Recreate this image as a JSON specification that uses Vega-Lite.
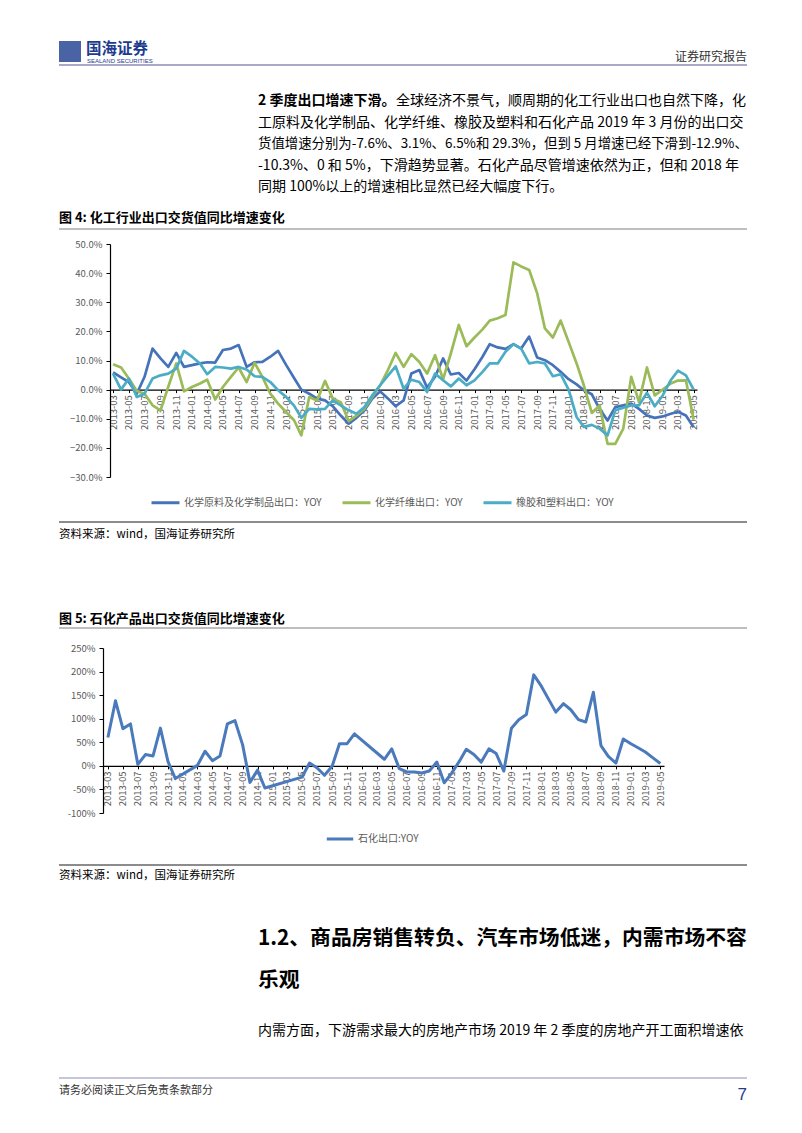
{
  "$schema": "https://vega.github.io/schema/vega-lite/v6.json",
  "background": "white",
  "padding": {"left": 57, "top": 30, "right": 0, "bottom": 0},
  "spacing": 0,
  "resolve": {"scale": {"color": "independent"}, "legend": {"color": "independent"}},
  "config": {"view": {"stroke": null}, "font": "Noto Sans CJK SC", "concat": {"spacing": 0}},
  "vconcat": [
    {
      "width": 688,
      "height": 209,
      "layer": [
        {"data": {"values": [{"t": "logo"}]}, "mark": {"type": "rect", "color": "#1d3c8f", "opacity": 0.8},
         "encoding": {"x": {"datum": 0, "type": "quantitative", "scale": {"domain": [51, 739], "nice": false, "zero": false}, "axis": null}, "x2": {"datum": 22}, "y": {"datum": 11, "type": "quantitative", "scale": {"domain": [0, 209], "reverse": true, "nice": false, "zero": false}, "axis": null}, "y2": {"datum": 32}}},
        {"data": {"values": [{"t": "国海证券"}]}, "mark": {"type": "text", "align": "left", "baseline": "middle", "fontSize": 15.5, "fontWeight": "bold", "color": "#1d3c8f"},
         "encoding": {"text": {"field": "t"}, "x": {"datum": 27, "type": "quantitative", "axis": null}, "y": {"datum": 18.5, "type": "quantitative", "axis": null}}},
        {"data": {"values": [{"t": "SEALAND SECURITIES"}]}, "mark": {"type": "text", "align": "left", "baseline": "middle", "fontSize": 6, "font": "Liberation Sans", "color": "#1d3c8f"},
         "encoding": {"text": {"field": "t"}, "x": {"datum": 28, "type": "quantitative", "axis": null}, "y": {"datum": 31, "type": "quantitative", "axis": null}}},
        {"data": {"values": [{"t": "证券研究报告"}]}, "mark": {"type": "text", "align": "right", "baseline": "middle", "fontSize": 12, "color": "#333333"},
         "encoding": {"text": {"field": "t"}, "x": {"datum": 688, "type": "quantitative", "axis": null}, "y": {"datum": 27, "type": "quantitative", "axis": null}}},
        {"data": {"values": [{"t": "rule"}]}, "mark": {"type": "rule", "color": "#8d8db5", "strokeWidth": 1.5},
         "encoding": {"x": {"datum": 0, "type": "quantitative", "axis": null}, "x2": {"datum": 688}, "y": {"datum": 35, "type": "quantitative", "axis": null}}},
        {"data": {"values": [{"t": "2 季度出口增速下滑。"}]}, "mark": {"type": "text", "align": "left", "baseline": "middle", "fontSize": 14, "fontWeight": "bold", "color": "#000000"},
         "encoding": {"text": {"field": "t"}, "x": {"datum": 199, "type": "quantitative", "axis": null}, "y": {"datum": 71, "type": "quantitative", "axis": null}}},
        {"data": {"values": [{"t": "全球经济不景气，顺周期的化工行业出口也自然下降，化"}]}, "mark": {"type": "text", "align": "left", "baseline": "middle", "fontSize": 14, "color": "#000000"},
         "encoding": {"text": {"field": "t"}, "x": {"datum": 337, "type": "quantitative", "axis": null}, "y": {"datum": 71, "type": "quantitative", "axis": null}}},
        {"data": {"values": [{"t": "工原料及化学制品、化学纤维、橡胶及塑料和石化产品 2019 年 3 月份的出口交"}]}, "mark": {"type": "text", "align": "left", "baseline": "middle", "fontSize": 14, "color": "#000000"},
         "encoding": {"text": {"field": "t"}, "x": {"datum": 199, "type": "quantitative", "axis": null}, "y": {"datum": 92.5, "type": "quantitative", "axis": null}}},
        {"data": {"values": [{"t": "货值增速分别为-7.6%、3.1%、6.5%和 29.3%，但到 5 月增速已经下滑到-12.9%、"}]}, "mark": {"type": "text", "align": "left", "baseline": "middle", "fontSize": 13.4, "color": "#000000"},
         "encoding": {"text": {"field": "t"}, "x": {"datum": 199, "type": "quantitative", "axis": null}, "y": {"datum": 114, "type": "quantitative", "axis": null}}},
        {"data": {"values": [{"t": "-10.3%、0 和 5%，下滑趋势显著。石化产品尽管增速依然为正，但和 2018 年"}]}, "mark": {"type": "text", "align": "left", "baseline": "middle", "fontSize": 14, "color": "#000000"},
         "encoding": {"text": {"field": "t"}, "x": {"datum": 199, "type": "quantitative", "axis": null}, "y": {"datum": 135.5, "type": "quantitative", "axis": null}}},
        {"data": {"values": [{"t": "同期 100%以上的增速相比显然已经大幅度下行。"}]}, "mark": {"type": "text", "align": "left", "baseline": "middle", "fontSize": 14, "color": "#000000"},
         "encoding": {"text": {"field": "t"}, "x": {"datum": 199, "type": "quantitative", "axis": null}, "y": {"datum": 157, "type": "quantitative", "axis": null}}},
        {"data": {"values": [{"t": "图 4: 化工行业出口交货值同比增速变化"}]}, "mark": {"type": "text", "align": "left", "baseline": "middle", "fontSize": 13, "fontWeight": "bold", "color": "#000000"},
         "encoding": {"text": {"field": "t"}, "x": {"datum": 0, "type": "quantitative", "axis": null}, "y": {"datum": 188, "type": "quantitative", "axis": null}}},
        {"data": {"values": [{"t": "rule"}]}, "mark": {"type": "rule", "color": "#7f7f7f", "strokeWidth": 1},
         "encoding": {"x": {"datum": 0, "type": "quantitative", "axis": null}, "x2": {"datum": 688}, "y": {"datum": 199, "type": "quantitative", "axis": null}}}
      ]
    },
    {
      "width": 587,
      "height": 233,
      "data": {"values": [
        {"m": "2013-03", "a": 5.9, "b": 8.7, "c": 5.5},
        {"m": "2013-04", "a": 4.2, "b": 7.6, "c": 0.0},
        {"m": "2013-05", "a": 2.6, "b": 3.8, "c": 3.8},
        {"m": "2013-06", "a": -1.4, "b": -0.5, "c": -2.5},
        {"m": "2013-07", "a": 4.4, "b": -1.4, "c": -1.4},
        {"m": "2013-08", "a": 14.1, "b": -5.4, "c": 3.8},
        {"m": "2013-09", "a": 10.7, "b": -7.1, "c": 4.9},
        {"m": "2013-10", "a": 7.8, "b": 1.0, "c": 5.5},
        {"m": "2013-11", "a": 12.6, "b": 9.0, "c": 7.2},
        {"m": "2013-12", "a": 7.8, "b": -0.6, "c": 13.3},
        {"m": "2014-01", "a": 8.4, "b": 0.9, "c": 11.3},
        {"m": "2014-02", "a": 9.0, "b": 2.1, "c": 9.0},
        {"m": "2014-03", "a": 9.4, "b": 3.4, "c": 5.3},
        {"m": "2014-04", "a": 9.3, "b": -3.4, "c": 7.8},
        {"m": "2014-05", "a": 13.6, "b": 0.9, "c": 7.6},
        {"m": "2014-06", "a": 14.1, "b": 4.4, "c": 7.2},
        {"m": "2014-07", "a": 15.3, "b": 7.6, "c": 7.8},
        {"m": "2014-08", "a": 7.8, "b": 2.6, "c": 6.9},
        {"m": "2014-09", "a": 9.4, "b": 9.2, "c": 4.6},
        {"m": "2014-10", "a": 9.5, "b": 4.4, "c": 4.4},
        {"m": "2014-11", "a": 11.3, "b": -1.4, "c": 2.6},
        {"m": "2014-12", "a": 13.3, "b": -4.8, "c": -0.2},
        {"m": "2015-01", "a": 8.5, "b": -7.7, "c": -2.5},
        {"m": "2015-02", "a": 4.0, "b": -10.5, "c": -5.5},
        {"m": "2015-03", "a": 0.0, "b": -15.7, "c": -9.7},
        {"m": "2015-04", "a": -1.4, "b": -2.5, "c": -6.6},
        {"m": "2015-05", "a": -3.1, "b": -3.7, "c": -6.8},
        {"m": "2015-06", "a": -3.7, "b": 3.0, "c": -6.6},
        {"m": "2015-07", "a": -5.7, "b": -3.1, "c": -3.7},
        {"m": "2015-08", "a": -8.9, "b": -4.3, "c": -5.4},
        {"m": "2015-09", "a": -11.7, "b": -10.8, "c": -7.1},
        {"m": "2015-10", "a": -9.7, "b": -8.9, "c": -8.3},
        {"m": "2015-11", "a": -7.1, "b": -6.6, "c": -6.0},
        {"m": "2015-12", "a": -3.1, "b": -2.5, "c": -2.0},
        {"m": "2016-01", "a": -0.6, "b": 1.5, "c": 1.5},
        {"m": "2016-02", "a": -3.1, "b": 6.9, "c": 4.9},
        {"m": "2016-03", "a": -5.7, "b": 12.6, "c": 8.0},
        {"m": "2016-04", "a": -3.7, "b": 7.8, "c": 0.3},
        {"m": "2016-05", "a": 5.5, "b": 12.2, "c": 3.4},
        {"m": "2016-06", "a": 6.7, "b": 9.5, "c": 2.6},
        {"m": "2016-07", "a": 0.7, "b": 5.5, "c": -0.8},
        {"m": "2016-08", "a": 4.4, "b": 11.8, "c": 5.5},
        {"m": "2016-09", "a": 10.7, "b": 3.5, "c": 3.2},
        {"m": "2016-10", "a": 5.2, "b": 12.4, "c": 1.1},
        {"m": "2016-11", "a": 5.7, "b": 22.2, "c": 3.8},
        {"m": "2016-12", "a": 3.1, "b": 14.9, "c": 1.5},
        {"m": "2017-01", "a": 7.0, "b": 17.9, "c": 3.2},
        {"m": "2017-02", "a": 11.3, "b": 20.7, "c": 6.1},
        {"m": "2017-03", "a": 15.6, "b": 23.7, "c": 9.0},
        {"m": "2017-04", "a": 14.5, "b": 24.5, "c": 9.0},
        {"m": "2017-05", "a": 14.0, "b": 25.6, "c": 13.0},
        {"m": "2017-06", "a": 15.6, "b": 43.7, "c": 15.6},
        {"m": "2017-07", "a": 14.1, "b": 42.3, "c": 14.1},
        {"m": "2017-08", "a": 18.2, "b": 41.1, "c": 9.0},
        {"m": "2017-09", "a": 11.0, "b": 33.1, "c": 9.5},
        {"m": "2017-10", "a": 10.1, "b": 21.0, "c": 9.0},
        {"m": "2017-11", "a": 8.4, "b": 17.9, "c": 4.6},
        {"m": "2017-12", "a": 6.1, "b": 23.7, "c": 5.3},
        {"m": "2018-01", "a": 3.6, "b": 16.4, "c": 0.0},
        {"m": "2018-02", "a": 1.8, "b": 9.0, "c": -9.4},
        {"m": "2018-03", "a": -0.2, "b": 1.5, "c": -12.8},
        {"m": "2018-04", "a": -1.6, "b": -8.0, "c": -12.1},
        {"m": "2018-05", "a": -6.6, "b": -5.4, "c": -13.4},
        {"m": "2018-06", "a": -10.6, "b": -18.6, "c": -15.7},
        {"m": "2018-07", "a": -6.0, "b": -18.6, "c": -7.1},
        {"m": "2018-08", "a": -5.4, "b": -13.4, "c": -6.2},
        {"m": "2018-09", "a": -4.8, "b": 4.4, "c": -5.4},
        {"m": "2018-10", "a": -6.6, "b": -4.3, "c": -5.4},
        {"m": "2018-11", "a": -8.9, "b": 7.6, "c": -1.1},
        {"m": "2018-12", "a": -9.7, "b": -2.0, "c": -5.7},
        {"m": "2019-01", "a": -9.2, "b": 0.0, "c": -2.0},
        {"m": "2019-02", "a": -8.3, "b": 2.1, "c": 3.2},
        {"m": "2019-03", "a": -7.6, "b": 3.1, "c": 6.5},
        {"m": "2019-04", "a": -8.9, "b": 3.2, "c": 4.9},
        {"m": "2019-05", "a": -12.9, "b": -10.3, "c": 0.0}
      ]},
      "transform": [{"fold": ["a", "b", "c"], "as": ["s", "v"]}],
      "mark": {"type": "line", "strokeWidth": 2.7, "strokeJoin": "round"},
      "encoding": {
        "x": {"field": "m", "type": "temporal",
              "scale": {"type": "utc", "domain": [{"year": 2013, "month": 2, "date": 17, "utc": true}, {"year": 2019, "month": 5, "date": 14, "utc": true}]},
              "axis": {"orient": "bottom", "offset": -87.4, "format": "%Y-%m", "tickCount": {"interval": "month", "step": 2}, "labelAngle": 270, "labelAlign": "right", "labelBaseline": "middle", "labelFontSize": 9.5, "labelColor": "#595959", "labelPadding": 2, "labelOverlap": false, "labelFlush": false, "labelBound": false, "tickSize": 3, "tickColor": "#000000", "domainColor": "#000000", "domainWidth": 1.2, "grid": false, "title": null}},
        "y": {"field": "v", "type": "quantitative", "scale": {"domain": [-30, 50], "nice": false},
              "axis": {"values": [-30, -20, -10, 0, 10, 20, 30, 40, 50], "labelExpr": "format(datum.value, '.1f') + '%'", "labelFontSize": 9.5, "labelColor": "#595959", "tickSize": 4, "tickColor": "#000000", "domainColor": "#000000", "domainWidth": 1.2, "grid": false, "title": null, "minExtent": 51, "labelPadding": 4}},
        "color": {"field": "s", "type": "nominal",
                  "scale": {"domain": ["a", "b", "c"], "range": ["#4672b9", "#9bbb59", "#4bacc6"]},
                  "legend": {"orient": "none", "legendX": 40, "legendY": 243, "direction": "horizontal", "title": null, "symbolType": "stroke", "symbolStrokeWidth": 3, "symbolSize": 784, "labelFontSize": 10, "labelColor": "#595959", "columnPadding": 14, "labelOffset": 3, "padding": 0, "labelLimit": 300,
                             "labelExpr": "datum.label == 'a' ? '化学原料及化学制品出口：YOY' : datum.label == 'b' ? '化学纤维出口：YOY' : '橡胶和塑料出口：YOY'"}}
      }
    },
    {
      "width": 688,
      "height": 134,
      "layer": [
        {"data": {"values": [{"t": "rule"}]}, "mark": {"type": "rule", "color": "#8c8c8c", "strokeWidth": 2},
         "encoding": {"x": {"datum": 0, "type": "quantitative", "scale": {"domain": [51, 739], "nice": false, "zero": false}, "axis": null}, "x2": {"datum": 688}, "y": {"datum": 13, "type": "quantitative", "scale": {"domain": [0, 134], "reverse": true, "nice": false, "zero": false}, "axis": null}}},
        {"data": {"values": [{"t": "资料来源：wind，国海证券研究所"}]}, "mark": {"type": "text", "align": "left", "baseline": "middle", "fontSize": 11.5, "color": "#000000"},
         "encoding": {"text": {"field": "t"}, "x": {"datum": 0, "type": "quantitative", "axis": null}, "y": {"datum": 26, "type": "quantitative", "axis": null}}},
        {"data": {"values": [{"t": "图 5: 石化产品出口交货值同比增速变化"}]}, "mark": {"type": "text", "align": "left", "baseline": "middle", "fontSize": 13, "fontWeight": "bold", "color": "#000000"},
         "encoding": {"text": {"field": "t"}, "x": {"datum": 0, "type": "quantitative", "axis": null}, "y": {"datum": 110, "type": "quantitative", "axis": null}}},
        {"data": {"values": [{"t": "rule"}]}, "mark": {"type": "rule", "color": "#7f7f7f", "strokeWidth": 1},
         "encoding": {"x": {"datum": 0, "type": "quantitative", "axis": null}, "x2": {"datum": 688}, "y": {"datum": 119, "type": "quantitative", "axis": null}}}
      ]
    },
    {
      "width": 554,
      "height": 165,
      "data": {"values": [
        {"m": "2013-03", "v": 60}, {"m": "2013-04", "v": 138}, {"m": "2013-05", "v": 79}, {"m": "2013-06", "v": 89},
        {"m": "2013-07", "v": 3}, {"m": "2013-08", "v": 24}, {"m": "2013-09", "v": 21}, {"m": "2013-10", "v": 80},
        {"m": "2013-11", "v": 9}, {"m": "2013-12", "v": -27}, {"m": "2014-03", "v": 1}, {"m": "2014-04", "v": 31},
        {"m": "2014-05", "v": 11}, {"m": "2014-06", "v": 21}, {"m": "2014-07", "v": 89}, {"m": "2014-08", "v": 96},
        {"m": "2014-09", "v": 45}, {"m": "2014-10", "v": -35}, {"m": "2014-11", "v": -9}, {"m": "2014-12", "v": -47},
        {"m": "2015-05", "v": -24}, {"m": "2015-06", "v": 6}, {"m": "2015-07", "v": -4}, {"m": "2015-08", "v": -20},
        {"m": "2015-09", "v": -1}, {"m": "2015-10", "v": 47}, {"m": "2015-11", "v": 47}, {"m": "2015-12", "v": 68},
        {"m": "2016-04", "v": 14}, {"m": "2016-05", "v": 36}, {"m": "2016-06", "v": -6}, {"m": "2016-07", "v": -13},
        {"m": "2016-08", "v": -13}, {"m": "2016-09", "v": -15}, {"m": "2016-10", "v": -11}, {"m": "2016-11", "v": 8},
        {"m": "2016-12", "v": -36}, {"m": "2017-01", "v": -15}, {"m": "2017-02", "v": 10}, {"m": "2017-03", "v": 35},
        {"m": "2017-04", "v": 24}, {"m": "2017-05", "v": 8}, {"m": "2017-06", "v": 36}, {"m": "2017-07", "v": 26},
        {"m": "2017-08", "v": -11}, {"m": "2017-09", "v": 80}, {"m": "2017-10", "v": 98}, {"m": "2017-11", "v": 109},
        {"m": "2017-12", "v": 193}, {"m": "2018-01", "v": 169}, {"m": "2018-02", "v": 140}, {"m": "2018-03", "v": 114},
        {"m": "2018-04", "v": 132}, {"m": "2018-05", "v": 119}, {"m": "2018-06", "v": 98}, {"m": "2018-07", "v": 93},
        {"m": "2018-08", "v": 156}, {"m": "2018-09", "v": 43}, {"m": "2018-10", "v": 20}, {"m": "2018-11", "v": 6},
        {"m": "2018-12", "v": 57}, {"m": "2019-01", "v": 47}, {"m": "2019-02", "v": 38}, {"m": "2019-03", "v": 29.3},
        {"m": "2019-04", "v": 17}, {"m": "2019-05", "v": 5}
      ]},
      "transform": [{"fold": ["v"], "as": ["s", "val"]}],
      "mark": {"type": "line", "strokeWidth": 3, "strokeJoin": "round"},
      "encoding": {
        "x": {"field": "m", "type": "temporal",
              "scale": {"type": "utc", "range": [-7, 554], "domain": [{"year": 2013, "month": 2, "date": 9, "utc": true}, {"year": 2019, "month": 5, "date": 16, "utc": true}]},
              "axis": {"orient": "bottom", "offset": -47.1, "format": "%Y-%m", "tickCount": {"interval": "month", "step": 2}, "labelAngle": 270, "labelAlign": "right", "labelBaseline": "middle", "labelFontSize": 9.5, "labelColor": "#595959", "labelPadding": 2, "labelOverlap": false, "labelFlush": false, "labelBound": false, "tickSize": 3, "tickColor": "#000000", "domainColor": "#000000", "domainWidth": 1.2, "grid": false, "title": null}},
        "y": {"field": "val", "type": "quantitative", "scale": {"domain": [-100, 250], "nice": false},
              "axis": {"values": [-100, -50, 0, 50, 100, 150, 200, 250], "labelExpr": "datum.value + '%'", "offset": 7, "labelFontSize": 9.5, "labelColor": "#595959", "tickSize": 4, "tickColor": "#000000", "domainColor": "#000000", "domainWidth": 1.2, "grid": false, "title": null, "labelPadding": 4}},
        "color": {"field": "s", "type": "nominal",
                  "scale": {"domain": ["v"], "range": ["#4a7abb"]},
                  "legend": {"orient": "none", "legendX": 215, "legendY": 176, "direction": "horizontal", "title": null, "symbolType": "stroke", "symbolStrokeWidth": 3, "symbolSize": 700, "labelFontSize": 10, "labelColor": "#595959", "labelOffset": 3, "padding": 0, "labelLimit": 300,
                             "labelExpr": "'石化出口:YOY'"}}
      }
    },
    {
      "width": 688,
      "height": 270,
      "layer": [
        {"data": {"values": [{"t": "rule"}]}, "mark": {"type": "rule", "color": "#8c8c8c", "strokeWidth": 2},
         "encoding": {"x": {"datum": 0, "type": "quantitative", "scale": {"domain": [51, 739], "nice": false, "zero": false}, "axis": null}, "x2": {"datum": 688}, "y": {"datum": 20, "type": "quantitative", "scale": {"domain": [0, 270], "reverse": true, "nice": false, "zero": false}, "axis": null}}},
        {"data": {"values": [{"t": "资料来源：wind，国海证券研究所"}]}, "mark": {"type": "text", "align": "left", "baseline": "middle", "fontSize": 11.5, "color": "#000000"},
         "encoding": {"text": {"field": "t"}, "x": {"datum": 0, "type": "quantitative", "axis": null}, "y": {"datum": 31, "type": "quantitative", "axis": null}}},
        {"data": {"values": [{"t": "1.2、商品房销售转负、汽车市场低迷，内需市场不容"}]}, "mark": {"type": "text", "align": "left", "baseline": "middle", "fontSize": 20.8, "fontWeight": "bold", "color": "#000000"},
         "encoding": {"text": {"field": "t"}, "x": {"datum": 199, "type": "quantitative", "axis": null}, "y": {"datum": 94, "type": "quantitative", "axis": null}}},
        {"data": {"values": [{"t": "乐观"}]}, "mark": {"type": "text", "align": "left", "baseline": "middle", "fontSize": 20.8, "fontWeight": "bold", "color": "#000000"},
         "encoding": {"text": {"field": "t"}, "x": {"datum": 199, "type": "quantitative", "axis": null}, "y": {"datum": 136, "type": "quantitative", "axis": null}}},
        {"data": {"values": [{"t": "内需方面，下游需求最大的房地产市场 2019 年 2 季度的房地产开工面积增速依"}]}, "mark": {"type": "text", "align": "left", "baseline": "middle", "fontSize": 14, "color": "#000000"},
         "encoding": {"text": {"field": "t"}, "x": {"datum": 199, "type": "quantitative", "axis": null}, "y": {"datum": 186, "type": "quantitative", "axis": null}}},
        {"data": {"values": [{"t": "rule"}]}, "mark": {"type": "rule", "color": "#8d8db5", "strokeWidth": 1.2},
         "encoding": {"x": {"datum": 0, "type": "quantitative", "axis": null}, "x2": {"datum": 688}, "y": {"datum": 233, "type": "quantitative", "axis": null}}},
        {"data": {"values": [{"t": "请务必阅读正文后免责条款部分"}]}, "mark": {"type": "text", "align": "left", "baseline": "middle", "fontSize": 11, "color": "#333333"},
         "encoding": {"text": {"field": "t"}, "x": {"datum": 0, "type": "quantitative", "axis": null}, "y": {"datum": 246, "type": "quantitative", "axis": null}}},
        {"data": {"values": [{"t": "7"}]}, "mark": {"type": "text", "align": "right", "baseline": "middle", "fontSize": 17, "font": "Liberation Sans", "color": "#1d3c8f"},
         "encoding": {"text": {"field": "t"}, "x": {"datum": 688, "type": "quantitative", "axis": null}, "y": {"datum": 250, "type": "quantitative", "axis": null}}}
      ]
    }
  ]
}
